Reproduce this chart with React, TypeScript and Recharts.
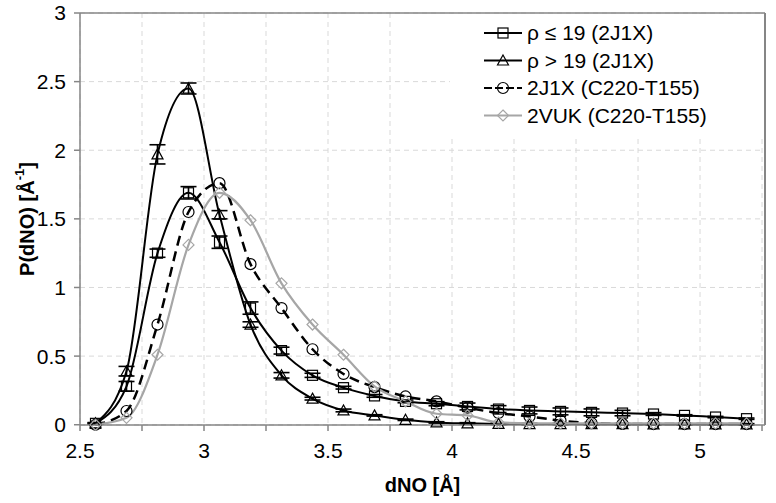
import React from "react";
import {
  LineChart,
  Line,
  XAxis,
  YAxis,
  CartesianGrid,
  ErrorBar,
  ReferenceLine,
} from "recharts";

// bin centres of dNO [Å]
const dNO = [
  2.5625, 2.6875, 2.8125, 2.9375, 3.0625, 3.1875, 3.3125, 3.4375, 3.5625, 3.6875, 3.8125,
  3.9375, 4.0625, 4.1875, 4.3125, 4.4375, 4.5625, 4.6875, 4.8125, 4.9375, 5.0625, 5.1875,
];

const rhoLow = [
  0.01, 0.28, 1.25, 1.69, 1.33, 0.85, 0.54, 0.36, 0.27, 0.21, 0.17, 0.153, 0.133, 0.114,
  0.104, 0.097, 0.09, 0.085, 0.078, 0.068, 0.056, 0.044,
];
const rhoLowErr = [
  0.005, 0.035, 0.03, 0.045, 0.045, 0.045, 0.025, 0.015, 0.01, 0.01, 0.01, 0.015, 0.025,
  0.025, 0.025, 0.025, 0.025, 0.02, 0.01, 0.005, 0.005, 0.005,
];

const rhoHigh = [
  0.01, 0.39, 1.97, 2.45, 1.53, 0.73, 0.36, 0.19, 0.104, 0.068, 0.036, 0.017, 0.01, 0.006,
  0.005, 0.005, 0.004, 0.004, 0.003, 0.003, 0.003, 0.003,
];
const rhoHighErr = [
  0.005, 0.035, 0.07, 0.04, 0.03, 0.02, 0.02, 0.01, 0.01, 0.005, 0.005, 0.005, 0.005,
  0.005, 0.005, 0.005, 0.005, 0.005, 0.005, 0.005, 0.005, 0.005,
];

const c220_2j1x = [
  0.0, 0.1, 0.73, 1.55, 1.76, 1.17, 0.85, 0.55, 0.37, 0.274, 0.206, 0.17, 0.124, 0.085,
  0.06, 0.03, 0.012, 0.006, 0.005, 0.005, 0.005, 0.005,
];

const c220_2vuk = [
  0.0, 0.05, 0.51, 1.31, 1.69, 1.49, 1.03, 0.73, 0.51, 0.28, 0.17, 0.08, 0.068, 0.017,
  0.01, 0.01, 0.01, 0.01, 0.01, 0.01, 0.01, 0.01,
];

const xTicks = [2.5, 2.75, 3, 3.25, 3.5, 3.75, 4, 4.25, 4.5, 4.75, 5, 5.25];
const yTicks = [0, 0.5, 1, 1.5, 2, 2.5, 3];
const X_MAX = 5.262;

const data = dNO.map((x, i) => ({
  x,
  low: rhoLow[i],
  lowErr: rhoLowErr[i],
  high: rhoHigh[i],
  highErr: rhoHighErr[i],
  j1x: c220_2j1x[i],
  vuk: c220_2vuk[i],
}));

const FONT = "'Liberation Sans', Arial, sans-serif";
const GRAY = "#a6a6a6";
const AXIS = "#868686";

type MarkerProps = { cx?: number; cy?: number; color?: string };

const Square = ({ cx = 0, cy = 0, color = "#000" }: MarkerProps) => (
  <rect x={cx - 5} y={cy - 5} width={10} height={10} fill="none" stroke={color} strokeWidth={1.2} />
);
const Triangle = ({ cx = 0, cy = 0, color = "#000" }: MarkerProps) => (
  <polygon
    points={`${cx},${cy - 5.5} ${cx + 5.5},${cy + 4.5} ${cx - 5.5},${cy + 4.5}`}
    fill="none"
    stroke={color}
    strokeWidth={1.2}
  />
);
const Circle = ({ cx = 0, cy = 0, color = "#000" }: MarkerProps) => (
  <circle cx={cx} cy={cy} r={5.5} fill="none" stroke={color} strokeWidth={1.2} />
);
const Diamond = ({ cx = 0, cy = 0, color = GRAY }: MarkerProps) => (
  <polygon
    points={`${cx},${cy - 5.5} ${cx + 5.5},${cy} ${cx},${cy + 5.5} ${cx - 5.5},${cy}`}
    fill="none"
    stroke={color}
    strokeWidth={1.2}
  />
);

const legendItems = [
  { label: "ρ ≤ 19 (2J1X)", color: "#000", dash: undefined, Marker: Square },
  { label: "ρ > 19 (2J1X)", color: "#000", dash: undefined, Marker: Triangle },
  { label: "2J1X (C220-T155)", color: "#000", dash: "8 3", Marker: Circle },
  { label: "2VUK (C220-T155)", color: GRAY, dash: undefined, Marker: Diamond },
];

function LegendBox() {
  return (
    <svg width={314} height={124} style={{ display: "block", background: "white" }}>
      {legendItems.map((it, i) => {
        const y = 19 + i * 27.5;
        return (
          <g key={it.label}>
            <line x1={34} x2={72} y1={y} y2={y} stroke={it.color} strokeWidth={1.8} strokeDasharray={it.dash} />
            <it.Marker cx={53} cy={y} color={it.color} />
            <text x={77} y={y + 7} fontSize={21} fontFamily={FONT} fill="#000">
              {it.label}
            </text>
          </g>
        );
      })}
    </svg>
  );
}

export default function App() {
  return (
    <div style={{ position: "absolute", left: 0, top: 0, width: 776, height: 503, background: "white" }}>
      <LineChart width={776} height={503} data={data} margin={{ top: 13, right: 11, left: 0, bottom: 0 }}>
        <CartesianGrid stroke="#d9d9d9" strokeDasharray="5 4" />
        <XAxis
          dataKey="x"
          type="number"
          domain={[2.5, X_MAX]}
          ticks={xTicks}
          allowDataOverflow
          height={78}
          stroke={AXIS}
          strokeWidth={1.5}
          tickSize={6}
          tickMargin={12}
          tick={{ fill: "#000", fontSize: 21, fontFamily: FONT }}
          tickFormatter={(v: number) => (Math.abs(v * 2 - Math.round(v * 2)) < 1e-6 ? String(v) : "")}
          label={{
            value: "dNO [Å]",
            position: "insideBottom",
            offset: 11,
            fill: "#000",
            fontSize: 20,
            fontWeight: "bold",
            fontFamily: FONT,
          }}
        />
        <YAxis
          type="number"
          domain={[0, 3]}
          ticks={yTicks}
          width={80}
          stroke={AXIS}
          strokeWidth={1.5}
          tickSize={6}
          tickMargin={8}
          tick={{ fill: "#000", fontSize: 21, fontFamily: FONT }}
          label={{
            content: () => (
              <text
                x={27}
                y={219}
                transform="rotate(-90, 27, 219)"
                textAnchor="middle"
                dominantBaseline="central"
                fontSize={20}
                fontWeight="bold"
                fontFamily={FONT}
                fill="#000"
              >
                P(dNO) [Å
                <tspan fontSize={13} dy={-8}>
                  -1
                </tspan>
                <tspan dy={8}>]</tspan>
              </text>
            ),
          }}
        />
        <ReferenceLine y={3} stroke={AXIS} strokeWidth={1.5} />
        <ReferenceLine x={X_MAX} stroke={AXIS} strokeWidth={2} />
        <Line
          dataKey="low"
          type="monotone"
          stroke="#000"
          strokeWidth={2}
          isAnimationActive={false}
          dot={(p: any) => <Square key={`s${p.index}`} cx={p.cx} cy={p.cy} />}
          activeDot={false}
        >
          <ErrorBar dataKey="lowErr" direction="y" width={8} stroke="#000" strokeWidth={1.6} />
        </Line>
        <Line
          dataKey="high"
          type="monotone"
          stroke="#000"
          strokeWidth={2}
          isAnimationActive={false}
          dot={(p: any) => <Triangle key={`t${p.index}`} cx={p.cx} cy={p.cy} />}
          activeDot={false}
        >
          <ErrorBar dataKey="highErr" direction="y" width={8} stroke="#000" strokeWidth={1.6} />
        </Line>
        <Line
          dataKey="j1x"
          type="monotone"
          stroke="#000"
          strokeWidth={2.5}
          strokeDasharray="10 6"
          isAnimationActive={false}
          dot={(p: any) => <Circle key={`c${p.index}`} cx={p.cx} cy={p.cy} />}
          activeDot={false}
        />
        <Line
          dataKey="vuk"
          type="monotone"
          stroke={GRAY}
          strokeWidth={2.2}
          isAnimationActive={false}
          dot={(p: any) => <Diamond key={`d${p.index}`} cx={p.cx} cy={p.cy} />}
          activeDot={false}
        />
      </LineChart>
      <div style={{ position: "absolute", left: 450, top: 14 }}>
        <LegendBox />
      </div>
    </div>
  );
}
